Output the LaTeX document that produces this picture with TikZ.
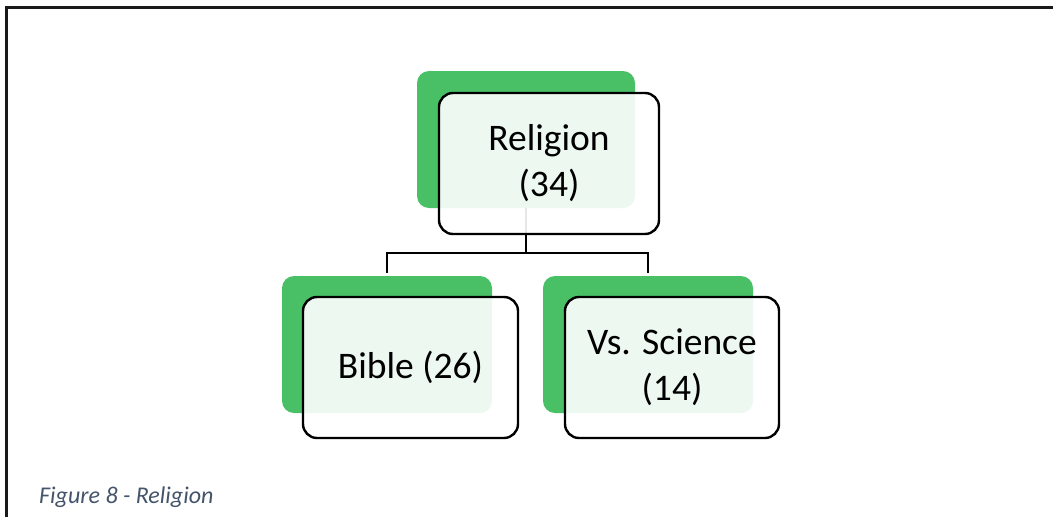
\documentclass[tikz,border=0pt]{standalone}
\usepackage{fontspec}
\setmainfont{Carlito}
\begin{document}
\begin{tikzpicture}[x=1pt,y=-1pt,
  greenback/.style={draw=none, fill=catgreen, rounded corners=12pt, inner sep=0pt},
  labelbox/.style={draw=black, line width=2.4pt, fill=white, fill opacity=0.9, text opacity=1,
    rounded corners=14pt, inner sep=0pt, align=center, text=black,
    font=\fontsize{37.5}{46}\selectfont},
  link/.style={draw=black, line width=2pt},
  frameline/.style={draw=black!90, line width=2.5pt}]
\definecolor{catgreen}{HTML}{49C066}
\definecolor{captionblue}{HTML}{44546A}
\useasboundingbox (0,0) rectangle (1053,517);

% outer frame (top and left edges)
\draw[frameline] (6.5,517) -- (6.5,7.3) -- (1053,7.3);

% green backing cards
\node[greenback, minimum width=218pt, minimum height=137pt] (g1) at (526,139.5) {};
\node[greenback, minimum width=210pt, minimum height=137pt] (g2) at (387,344.5) {};
\node[greenback, minimum width=210pt, minimum height=137pt] (g3) at (648,344.5) {};

% tree connectors
\coordinate (j) at (526,253);
\draw[link] (g1.south) -- (j);
\draw[link, shorten <=3pt] (g2.north) |- (j);
\draw[link, shorten >=3pt] (j) -| (g3.north);

% outlined text boxes
\node[labelbox, minimum width=220pt, minimum height=141pt] (b1) at (549,163.5) {Religion\\(34)};
\node[labelbox, minimum width=215pt, minimum height=141pt] (b2) at (410.5,367.5) {Bible (26)};
\node[labelbox, minimum width=214pt, minimum height=141pt] (b3) at (672,367.5) {Vs. Science\\(14)};

% caption
\node[anchor=base west, inner sep=0pt, text=captionblue,
  font=\fontsize{24}{29}\selectfont\itshape] (cap) at (39,503) {Figure 8 - Religion};
\end{tikzpicture}
\end{document}
